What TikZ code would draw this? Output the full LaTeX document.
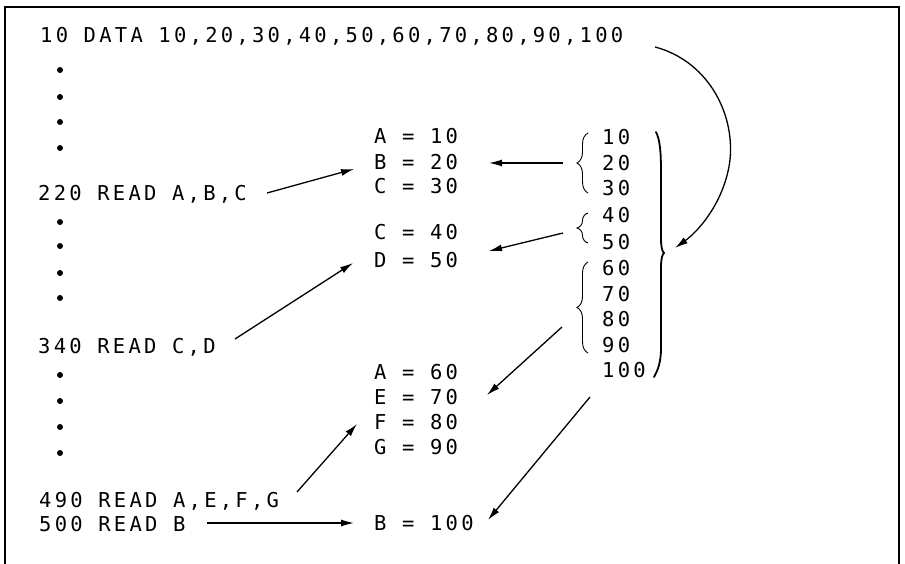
\documentclass[tikz,border=0pt]{standalone}
\usepackage{fontspec}
\usetikzlibrary{arrows.meta,decorations.pathreplacing}
\newfontfamily\codefont[LetterSpace=15.9]{DejaVu Sans Mono}
\begin{document}
\begin{tikzpicture}[x=1pt,y=-1pt,
  txt/.style={anchor=base west, inner sep=0pt, font=\fontsize{20.5}{24}\codefont},
  arr/.style={line width=1.3pt, -{Latex[length=13pt,width=7pt]}},
  dotmark/.style={circle, fill, inner sep=0pt, minimum size=6pt},
  sbrace/.style={decorate, decoration={brace, amplitude=11pt}, line width=0.9pt},
  bbrace/.style={line width=1.8pt, line cap=round, line join=round},
  frame/.style={line width=1.5pt}]
\useasboundingbox (0,0) rectangle (905,564);
\fill[white] (0,0) rectangle (905,564);
\draw[frame] (5,564) -- (5,7) -- (899,7) -- (899,564);

% program lines
\node[txt] (l10)  at (40,43)  {10 DATA 10,20,30,40,50,60,70,80,90,100};
\node[txt] (l220) at (38,201) {220 READ A,B,C};
\node[txt] (l340) at (38,353) {340 READ C,D};
\node[txt] (l490) at (39,507) {490 READ A,E,F,G};
\node[txt] (l500) at (39,531) {500 READ B};

% dots
\foreach \y [count=\i] in {70,97,122,148,222,246,273,298,375,401,427,453}
  \node[dotmark] (dot\i) at (60,\y) {};

% assigned values
\node[txt] (vA1) at (374,144) {A = 10};
\node[txt] (vB1) at (374,170) {B = 20};
\node[txt] (vC1) at (374,194) {C = 30};
\node[txt] (vC2) at (374,240) {C = 40};
\node[txt] (vD2) at (374,267) {D = 50};
\node[txt] (vA3) at (374,379) {A = 60};
\node[txt] (vE3) at (374,404) {E = 70};
\node[txt] (vF3) at (374,429) {F = 80};
\node[txt] (vG3) at (374,454) {G = 90};
\node[txt] (vB4) at (374,530) {B = 100};

% data list
\node[txt] (n10)  at (602,145) {10};
\node[txt] (n20)  at (602,171) {20};
\node[txt] (n30)  at (602,196) {30};
\node[txt] (n40)  at (602,223) {40};
\node[txt] (n50)  at (602,250) {50};
\node[txt] (n60)  at (602,275) {60};
\node[txt] (n70)  at (602,301) {70};
\node[txt] (n80)  at (602,326) {80};
\node[txt] (n90)  at (602,352) {90};
\node[txt] (n100) at (602,377) {100};

% braces
\draw[sbrace] (588,193) -- (588,133);
\draw[sbrace] (588,243) -- (588,213);
\draw[sbrace] (588,353) -- (588,262);
\draw[bbrace] (656,132) .. controls (660,140) and (661,152) .. (661,172)
  -- (661,238) .. controls (661,247) and (662,251) .. (664,253)
  .. controls (662,255) and (661,259) .. (661,268)
  -- (661,348) .. controls (661,362) and (658,370) .. (654,377);

% arrow end points
\coordinate (a1s) at (267,193); \coordinate (a1e) at (354,169);
\coordinate (a2s) at (563,163); \coordinate (a2e) at (489,163);
\coordinate (a3s) at (563,233); \coordinate (a3e) at (489,251);
\coordinate (a4s) at (235,339); \coordinate (a4e) at (353,263);
\coordinate (a5s) at (562,327); \coordinate (a5e) at (487,395);
\coordinate (a6s) at (297,492); \coordinate (a6e) at (357,424);
\coordinate (a7s) at (207,523); \coordinate (a7e) at (354,523);
\coordinate (a8s) at (590,397); \coordinate (a8e) at (488,520);
\coordinate (cs) at (655,47); \coordinate (ce) at (675,248);

\draw[arr] (a1s) -- (a1e);
\draw[arr] (a2s) -- (a2e);
\draw[arr] (a3s) -- (a3e);
\draw[arr] (a4s) -- (a4e);
\draw[arr] (a5s) -- (a5e);
\draw[arr] (a6s) -- (a6e);
\draw[arr] (a7s) -- (a7e);
\draw[arr] (a8s) -- (a8e);
\draw[arr] (cs) .. controls (705,60) and (735,110) .. (730,160)
               .. controls (725,200) and (700,230) .. (ce);
\end{tikzpicture}
\end{document}
